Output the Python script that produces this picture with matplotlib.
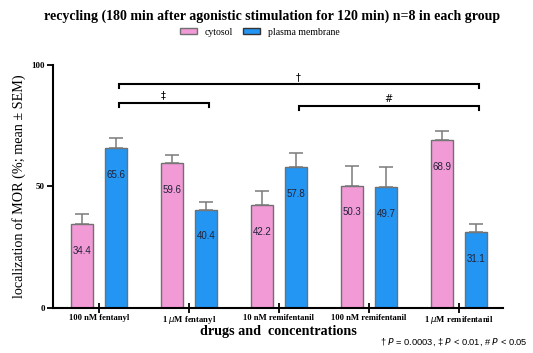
import numpy as np
import matplotlib.pyplot as plt
from matplotlib.patches import Patch

# Data: MOR localization after recycling, mean and SEM (n=8)
groups = ["100 nM fentanyl", r"1 $\mu$M fentanyl", "10 nM remifentanil",
          "100 nM remifentanil", r"1 $\mu$M remifentanil"]
cytosol = [34.4, 59.6, 42.2, 50.3, 68.9]
cytosol_sem = [4.2, 3.2, 6.0, 8.1, 3.8]
membrane = [65.6, 40.4, 57.8, 49.7, 31.1]
membrane_sem = [4.4, 3.1, 6.1, 8.2, 3.5]

# significance brackets: (group index from, group index to, height, symbol)
brackets = [(0, 4, 92.3, "†"), (0, 1, 84.5, "‡"), (2, 4, 83.1, "#")]

PINK = "#F19AD6"
BLUE = "#2396F3"
SERIF = "Liberation Serif"

x = np.arange(len(groups))
w = 0.245
off = 0.19

fig = plt.figure(figsize=(5.33, 3.53), dpi=100)
ax = fig.add_axes([0.0994, 0.1283, 0.8443, 0.6876])

err_kw = dict(ecolor="#7a7a7a", elinewidth=1.1, capsize=5, capthick=1.1)
ax.bar(x - off, cytosol, w, color=PINK, edgecolor="#707070", linewidth=1,
       yerr=[np.zeros(5), cytosol_sem], error_kw=err_kw, zorder=2)
ax.bar(x + off, membrane, w, color=BLUE, edgecolor="#707070", linewidth=1,
       yerr=[np.zeros(5), membrane_sem], error_kw=err_kw, zorder=2)

for xi, v in zip(x - off, cytosol):
    ax.text(xi, v - 11, f"{v:.1f}", ha="center", va="center", fontsize=7,
            family="Liberation Sans", color="#222238", zorder=3)
for xi, v in zip(x + off, membrane):
    ax.text(xi, v - 11, f"{v:.1f}", ha="center", va="center", fontsize=7,
            family="Liberation Sans", color="#222238", zorder=3)

for a, b, h, sym in brackets:
    x0, x1 = a + off + 0.03, b + off + 0.03
    ax.plot([x0, x0, x1, x1], [h - 1.8, h, h, h - 1.8], color="black",
            lw=1.5, solid_joinstyle="miter", clip_on=False)
    ax.text((x0 + x1) / 2, h + 0.8, sym, ha="center", va="bottom",
            fontsize=7, family="DejaVu Sans")

ax.set_xlim(-0.51, 4.49)
ax.set_ylim(0, 100)
ax.set_yticks([0, 50, 100])
ax.set_yticklabels(["0", "50", "100"], family=SERIF, fontweight="bold",
                   fontsize=6.5)
ax.set_xticks(x)
ax.set_xticklabels(groups, family=SERIF, fontweight="bold", fontsize=6.2)
ax.tick_params(axis="x", direction="inout", length=7, width=1.3, pad=1)
ax.tick_params(axis="y", direction="out", length=4, width=1.3, pad=2)

for s in ("top", "right"):
    ax.spines[s].set_visible(False)
for s in ("left", "bottom"):
    ax.spines[s].set_linewidth(1.5)

ax.set_ylabel("localization of MOR (%; mean ± SEM)", family=SERIF,
              fontsize=10.2, labelpad=4)
ax.set_xlabel("drugs and  concentrations", family=SERIF, fontweight="bold",
              fontsize=10.2, labelpad=-1)

fig.text(0.51, 0.955, "recycling (180 min after agonistic stimulation for 120 min) n=8 in each group",
         ha="center", va="center", family=SERIF, fontweight="bold", fontsize=10)

handles = [Patch(facecolor=PINK, edgecolor="#707070", label="cytosol"),
           Patch(facecolor=BLUE, edgecolor="#333333", label="plasma membrane")]
fig.legend(handles=handles, loc="center", bbox_to_anchor=(0.487, 0.909),
           ncol=2, frameon=False, prop={"family": SERIF, "size": 7},
           handlelength=1.75, handleheight=0.6, columnspacing=1.0,
           handletextpad=0.8)

fig.text(0.99, 0.03, r"† $\it{P}$ = 0.0003, ‡ $\it{P}$ < 0.01, # $\it{P}$ < 0.05",
         ha="right", va="center", fontsize=6.7, family="Liberation Sans")

fig.savefig("out.png", dpi=100)
